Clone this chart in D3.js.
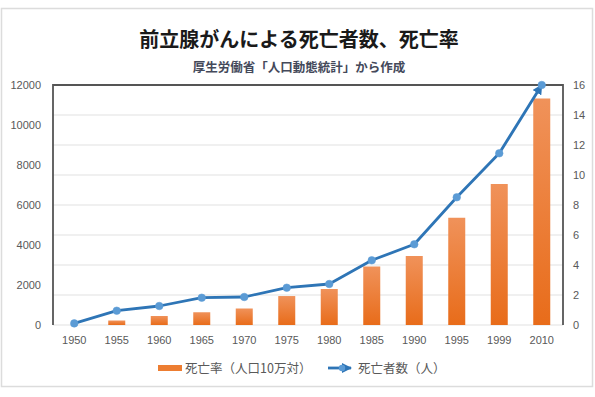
<!DOCTYPE html>
<html><head><meta charset="utf-8">
<script src="https://cdn.jsdelivr.net/npm/d3@7"></script>
<style>
html,body{margin:0;padding:0;background:#fff;}
svg{display:block;}
</style></head>
<body>
<svg id="chart" width="595" height="397"></svg>
<script>
const years = ["1950","1955","1960","1965","1970","1975","1980","1985","1990","1995","1999","2010"];
const deaths = [80, 715, 950, 1365, 1400, 1865, 2050, 3235, 4035, 6385, 8585, 12000];
const rates = [0, 0.3, 0.6, 0.85, 1.1, 1.93, 2.4, 3.9, 4.6, 7.15, 9.4, 15.1];
const leftTicks = [0,2000,4000,6000,8000,10000,12000];
const rightTicks = [0,2,4,6,8,10,12,14,16];
const title = "前立腺がんによる死亡者数、死亡率";
const subtitle = "厚生労働省「人口動態統計」から作成";
const legendRate = "死亡率（人口10万対）";
const legendDeaths = "死亡者数（人）";

const svg = d3.select("#chart");
const jp = "'Noto Sans CJK JP', 'Noto Sans', sans-serif";
const num = "'Liberation Sans', Arial, sans-serif";
const L = 53, R = 563, T = 85, B = 325;

// outer frame
svg.append("rect").attr("x",1.5).attr("y",8.5).attr("width",591).attr("height",378)
  .attr("fill","#fff").attr("stroke","#dcdcdc").attr("stroke-width",1.5);

const defs = svg.append("defs");
const grad = defs.append("linearGradient").attr("id","barGrad").attr("x1",0).attr("y1",0).attr("x2",0).attr("y2",1);
grad.append("stop").attr("offset","0%").attr("stop-color","#f0925a");
grad.append("stop").attr("offset","100%").attr("stop-color","#e86c1a");
defs.append("marker").attr("id","arrow").attr("viewBox","0 0 10 10").attr("refX",9).attr("refY",5)
  .attr("markerWidth",3.6).attr("markerHeight",3.6).attr("orient","auto").attr("markerUnits","strokeWidth")
  .append("path").attr("d","M0,0 L10,5 L0,10 z").attr("fill","#2e75b6");

const x = d3.scaleBand().domain(years).range([L,R]).paddingInner(0.6).paddingOuter(0.3);
const yL = d3.scaleLinear().domain([0,12000]).range([B,T]);
const yR = d3.scaleLinear().domain([0,16]).range([B,T]);

// gridlines
svg.append("g").selectAll("line").data(rightTicks).join("line")
  .attr("x1",L).attr("x2",R).attr("y1",d=>yR(d)).attr("y2",d=>yR(d))
  .attr("stroke","#e2e2e2").attr("stroke-width",1.2);

// bars
svg.append("g").selectAll("rect").data(rates).join("rect")
  .attr("x",(d,i)=>x(years[i])).attr("width",x.bandwidth())
  .attr("y",d=>yR(d)).attr("height",d=>B-yR(d))
  .attr("fill","url(#barGrad)");

// frame lines left/top/right
svg.append("path").attr("d",`M${L},${B} L${L},${T} L${R},${T} L${R},${B}`)
  .attr("fill","none").attr("stroke","#555").attr("stroke-width",1.8);

// axes
const axL = svg.append("g").attr("transform",`translate(${L},0)`)
  .call(d3.axisLeft(yL).tickValues(leftTicks).tickSize(0).tickPadding(12).tickFormat(d3.format("d")));
const axR = svg.append("g").attr("transform",`translate(${R},0)`)
  .call(d3.axisRight(yR).tickValues(rightTicks).tickSize(0).tickPadding(10));
const axB = svg.append("g").attr("transform",`translate(0,${B})`)
  .call(d3.axisBottom(x).tickSize(0).tickPadding(11));
[axL,axR,axB].forEach(a=>{
  a.select(".domain").remove();
  a.selectAll("text").attr("font-family",num).attr("font-size",11).attr("fill","#595959");
});

// line
const pts = deaths.map((d,i)=>[x(years[i])+x.bandwidth()/2, yL(d)]);
svg.append("path").datum(pts).attr("d",d3.line())
  .attr("fill","none").attr("stroke","#2e75b6").attr("stroke-width",2.8)
  .attr("stroke-linejoin","round").attr("marker-end","url(#arrow)");
svg.append("g").selectAll("circle").data(pts).join("circle")
  .attr("cx",d=>d[0]).attr("cy",d=>d[1]).attr("r",3.8)
  .attr("fill","#5b9bd5").attr("stroke","#5b9bd5").attr("stroke-width",0.5);

// titles
svg.append("text").attr("x",299).attr("y",47).attr("text-anchor","middle")
  .attr("font-family",jp).attr("font-weight","bold").attr("font-size",20).attr("fill","#1a1a1a").text(title);
svg.append("text").attr("x",299).attr("y",72).attr("text-anchor","middle")
  .attr("font-family",jp).attr("font-weight","bold").attr("font-size",12.5).attr("fill","#44495a").text(subtitle);

// legend
const ly = 368;
svg.append("rect").attr("x",158).attr("y",ly-3).attr("width",24).attr("height",6).attr("fill","#ed7d31");
svg.append("text").attr("x",185).attr("y",ly+4.5).attr("font-family",jp).attr("font-size",12.5)
  .attr("fill","#595959").text(legendRate);
svg.append("line").attr("x1",328).attr("x2",351).attr("y1",ly).attr("y2",ly)
  .attr("stroke","#2e75b6").attr("stroke-width",2.8).attr("marker-end","url(#arrow)");
svg.append("circle").attr("cx",342).attr("cy",ly).attr("r",3.2).attr("fill","#5b9bd5");
svg.append("text").attr("x",358).attr("y",ly+4.5).attr("font-family",jp).attr("font-size",12.5)
  .attr("fill","#595959").text(legendDeaths);
</script>
</body></html>
